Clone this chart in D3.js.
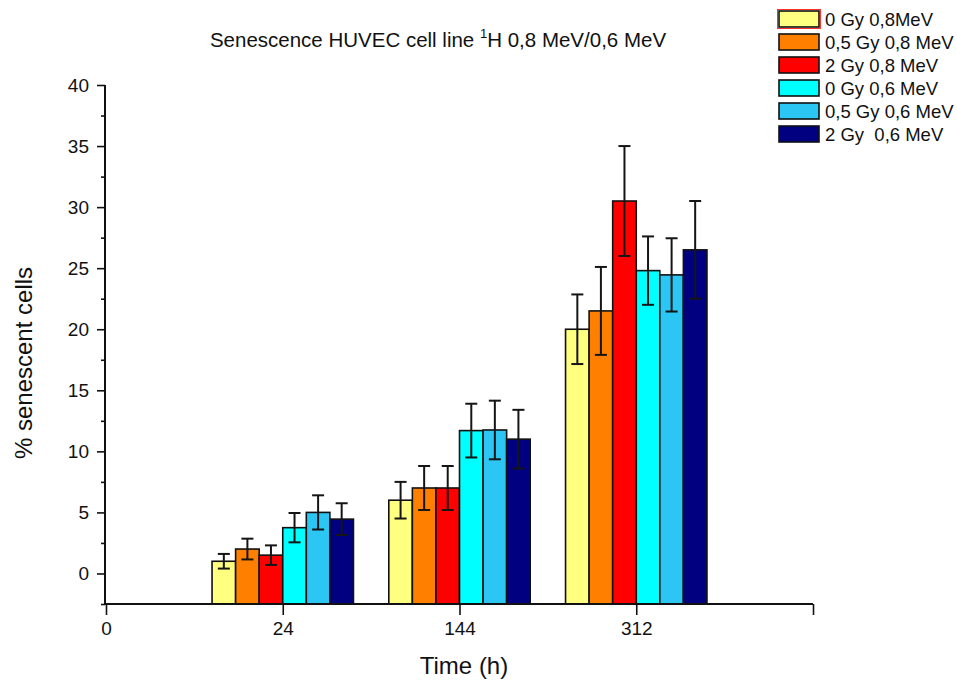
<!DOCTYPE html>
<html>
<head>
<meta charset="utf-8">
<script src="https://cdn.jsdelivr.net/npm/d3@7"></script>
<style>
  html, body { margin: 0; padding: 0; background: #fff; }
  svg { display: block; font-family: "Liberation Sans", Arial, sans-serif; }
</style>
</head>
<body>
<svg id="chart" width="957" height="682"></svg>
<script>
// Time points (h) shown along the x axis; the trailing blank closes the axis
const axisLabels = ["0", "24", "144", "312", ""];
const timePoints = ["24", "144", "312"];

// Dose / energy series
const seriesNames = ["0 Gy 0,8MeV", "0,5 Gy 0,8 MeV", "2 Gy 0,8 MeV", "0 Gy 0,6 MeV", "0,5 Gy 0,6 MeV", "2 Gy  0,6 MeV"];
const seriesColors = ["#FFFF80", "#FF8000", "#FF0000", "#00FFFF", "#2CC6F4", "#000080"];

// % senescent cells per series, one value per time point
const meanValues = [
  [1.0, 6.0, 20.0],
  [2.0, 7.0, 21.5],
  [1.5, 7.0, 30.5],
  [3.75, 11.7, 24.8],
  [5.0, 11.75, 24.45],
  [4.45, 11.0, 26.5]
];
// Standard deviations
const errorValues = [
  [0.6, 1.5, 2.85],
  [0.85, 1.8, 3.6],
  [0.8, 1.8, 4.5],
  [1.2, 2.2, 2.8],
  [1.4, 2.4, 3.0],
  [1.3, 2.4, 4.0]
];

const yTicks = [0, 5, 10, 15, 20, 25, 30, 35, 40];
const yMinorTicks = [-2.5, 2.5, 7.5, 12.5, 17.5, 22.5, 27.5, 32.5, 37.5];

const svg = d3.select("#chart");
const axisLeftX = 105, axisBottomY = 604;

const x = d3.scalePoint().domain(d3.range(axisLabels.length)).range([106, 813]);
const step = x.step();
const inner = d3.scaleBand().domain(d3.range(seriesNames.length)).range([-0.4 * step, 0.4 * step]).padding(0);
const y = d3.scaleLinear().domain([-2.5, 40]).range([axisBottomY, 85]);

// Bars
const data = [];
seriesNames.forEach((s, si) => {
  timePoints.forEach((t, ti) => {
    data.push({ si, ti, v: meanValues[si][ti], e: errorValues[si][ti] });
  });
});
const cx = d => x(axisLabels.indexOf(timePoints[d.ti]));

svg.append("g").selectAll("rect").data(data).join("rect")
  .attr("x", d => cx(d) + inner(d.si))
  .attr("y", d => y(d.v))
  .attr("width", inner.bandwidth())
  .attr("height", d => y(-2.5) - y(d.v))
  .attr("fill", d => seriesColors[d.si])
  .attr("stroke", "#111")
  .attr("stroke-width", 1.6);

// Error bars
const eg = svg.append("g").attr("stroke", "#151515").attr("stroke-width", 2);
const capHalf = 6;
data.forEach(d => {
  const xc = cx(d) + inner(d.si) + inner.bandwidth() / 2;
  eg.append("line").attr("x1", xc).attr("x2", xc).attr("y1", y(d.v + d.e)).attr("y2", y(d.v - d.e));
  eg.append("line").attr("x1", xc - capHalf).attr("x2", xc + capHalf).attr("y1", y(d.v + d.e)).attr("y2", y(d.v + d.e));
  eg.append("line").attr("x1", xc - capHalf).attr("x2", xc + capHalf).attr("y1", y(d.v - d.e)).attr("y2", y(d.v - d.e));
});

// Y axis
const yAxis = svg.append("g").attr("transform", `translate(${axisLeftX},0)`)
  .call(d3.axisLeft(y).tickValues(yTicks).tickSize(8).tickPadding(8).tickFormat(d3.format("d")));
yAxis.select(".domain").attr("d", `M0,${y(40)}V${axisBottomY}`).attr("stroke", "#111").attr("stroke-width", 2);
yAxis.selectAll(".tick line").attr("stroke", "#111").attr("stroke-width", 1.6);
yAxis.selectAll("text").attr("font-size", 19).attr("fill", "#111");
svg.append("g").attr("transform", `translate(${axisLeftX},0)`)
  .call(d3.axisLeft(y).tickValues(yMinorTicks).tickSize(4).tickFormat(""))
  .call(g => g.select(".domain").remove())
  .selectAll(".tick line").attr("stroke", "#111").attr("stroke-width", 1.6);

// X axis
const xAxis = svg.append("g").attr("transform", `translate(0,${axisBottomY})`)
  .call(d3.axisBottom(x).tickSize(11).tickPadding(7).tickFormat(i => axisLabels[i]));
xAxis.select(".domain").attr("d", `M${x(0) - 1},0H${x(axisLabels.length - 1)}`).attr("stroke", "#111").attr("stroke-width", 2);
xAxis.selectAll(".tick line").attr("stroke", "#111").attr("stroke-width", 1.6);
xAxis.selectAll("text").attr("font-size", 19).attr("fill", "#111");

// Axis titles
svg.append("text").attr("x", 464).attr("y", 674).attr("text-anchor", "middle")
  .attr("font-size", 24).attr("fill", "#111").text("Time (h)");
svg.append("text").attr("transform", "translate(32,363) rotate(-90)").attr("text-anchor", "middle")
  .attr("font-size", 24).attr("fill", "#111").text("% senescent cells");

// Chart title with superscript isotope mass number
const title = svg.append("text").attr("x", 438).attr("y", 47).attr("text-anchor", "middle")
  .attr("font-size", 20.5).attr("fill", "#111");
title.append("tspan").text("Senescence HUVEC cell line ");
title.append("tspan").attr("font-size", 13).attr("dy", -9).text("1");
title.append("tspan").attr("dy", 9).text("H 0,8 MeV/0,6 MeV");

// Legend
const legend = svg.append("g").attr("transform", "translate(779,11)");
seriesNames.forEach((name, i) => {
  const row = legend.append("g").attr("transform", `translate(0,${i * 23})`);
  if (i === 0) {
    row.append("rect").attr("x", -1.5).attr("y", -1.5).attr("width", 43).attr("height", 19)
      .attr("fill", "none").attr("stroke", "#FF3030").attr("stroke-width", 1);
  }
  row.append("rect").attr("x", 0).attr("y", 0).attr("width", 40).attr("height", 16)
    .attr("fill", seriesColors[i]).attr("stroke", "#111").attr("stroke-width", 1.6);
  row.append("text").attr("x", 46).attr("y", 15).attr("font-size", 18.5).attr("fill", "#111")
    .style("white-space", "pre").text(name);
});
</script>
</body>
</html>
